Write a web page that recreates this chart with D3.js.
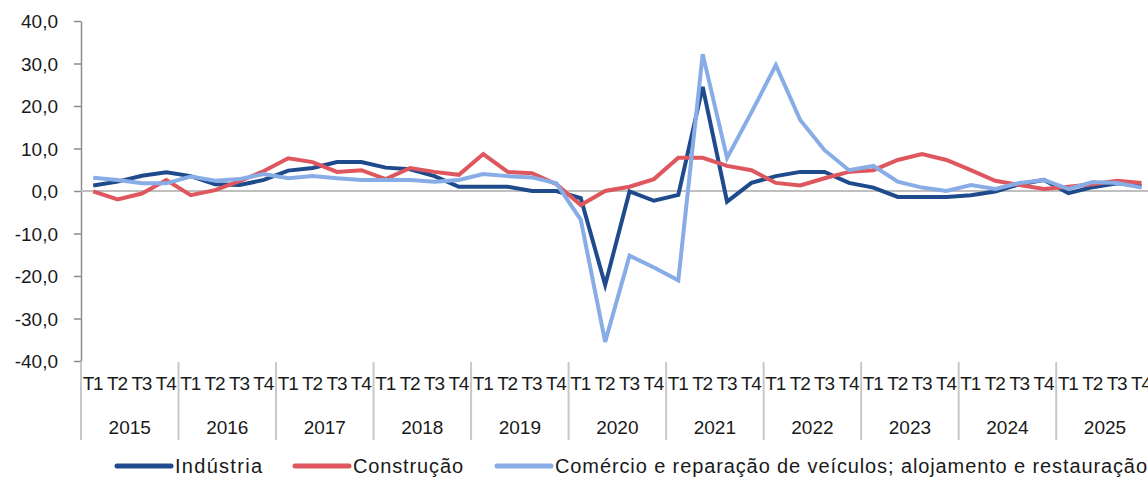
<!DOCTYPE html>
<html>
  <head>
    <meta charset="utf-8">
    <script src="https://cdn.jsdelivr.net/npm/d3@7"></script>
    <style>
      body{
        margin: 0;
        padding: 0;
        background-color: white;
      }
      svg text{
        font-family: "Liberation Sans", "DejaVu Sans", sans-serif;
        fill: #1a1a1a;
      }
    </style>
  </head>
  <body>
    <svg id="chart" width="1148" height="480"></svg>
    <script>
      // data
      var years = ["2015","2016","2017","2018","2019","2020","2021","2022","2023","2024","2025"];
      var quarters = ["T1","T2","T3","T4"];
      var yTicks = [-40,-30,-20,-10,0,10,20,30,40];

      var industria = [1.3,2.2,3.6,4.4, 3.5,1.6,1.4,2.6, 4.8,5.4,6.8,6.8, 5.5,5.1,3.5,1.0,
        1.0,1.0,0.0,0.0, -1.7,-22.1,-0.1,-2.3, -0.9,24.5,-2.5,1.9, 3.5,4.5,4.5,1.9,
        0.8,-1.4,-1.4,-1.4, -1.0,-0.1,1.6,2.6, -0.5,0.9,1.8,1.2];
      var construcao = [-0.1,-2.0,-0.6,2.6, -1.0,0.2,2.3,4.7, 7.7,6.8,4.5,4.9, 2.8,5.4,4.5,3.8,
        8.7,4.5,4.2,1.6, -3.3,0.0,1.0,2.8, 7.8,7.8,5.9,4.9, 1.9,1.3,3.0,4.5,
        4.9,7.3,8.7,7.3, 4.9,2.4,1.4,0.5, 1.0,1.6,2.4,1.9];
      var comercio = [3.1,2.6,1.8,1.8, 3.4,2.4,2.8,4.0, 3.0,3.5,3.0,2.6, 2.6,2.6,2.2,2.6,
        4.0,3.5,3.2,1.8, -6.8,-35.5,-15.2,-18.0, -21.0,32.2,7.8,18.5, 29.6,16.7,9.6,4.9,
        5.9,2.2,0.8,0.0, 1.4,0.5,1.9,2.6, 0.5,2.1,1.9,0.8];

      var series = [
        {name: "Indústria", values: industria, color: "#1F4B8C", len: 87},
        {name: "Construção", values: construcao, color: "#DE575E", len: 110},
        {name: "Comércio e reparação de veículos; alojamento e restauração", values: comercio, color: "#88ADE6", len: 592}
      ];

      var svg = d3.select("#chart");
      var plotLeft = 81, plotTop = 21, plotBottom = 361;
      var qWidth = 24.38;
      var n = years.length * quarters.length;

      var idx = d3.range(n);
      var x = d3.scaleBand().domain(idx).range([plotLeft, plotLeft + n * qWidth]);
      var y = d3.scaleLinear().domain([-40, 40]).range([plotBottom, plotTop]);

      // y axis
      var yAxis = d3.axisLeft(y).tickValues(yTicks).tickSize(7).tickSizeOuter(0)
        .tickFormat(function(d){ return d3.format(".1f")(d).replace(".", ",").replace("−", "-"); });
      var gy = svg.append("g").attr("transform", "translate(" + plotLeft + ",0)").call(yAxis);
      gy.select(".domain").attr("stroke", "#8c8c8c").attr("stroke-width", 1.5);
      gy.selectAll(".tick line").attr("stroke", "#8c8c8c").attr("stroke-width", 1.5);
      gy.selectAll(".tick text").attr("x", -23).attr("dy", "0.35em")
        .style("font-size", "19px").attr("fill", "#1a1a1a");

      // zero line
      svg.append("line")
        .attr("x1", plotLeft).attr("x2", 1148)
        .attr("y1", y(0)).attr("y2", y(0))
        .attr("stroke", "#bfbfbf").attr("stroke-width", 2);

      // category axis: quarters and years
      svg.append("g").selectAll("text").data(idx).enter().append("text")
        .attr("x", function(d){ return x(d) + x.bandwidth() / 2; })
        .attr("y", 390)
        .attr("text-anchor", "middle")
        .style("font-size", "19px")
        .attr("textLength", 21)
        .text(function(d){ return quarters[d % 4]; });

      svg.append("g").selectAll("text").data(years).enter().append("text")
        .attr("x", function(d, i){ return x(i * 4) + qWidth * 2; })
        .attr("y", 434)
        .attr("text-anchor", "middle")
        .style("font-size", "19px")
        .text(function(d){ return d; });

      svg.append("g").selectAll("line").data(d3.range(years.length + 1)).enter().append("line")
        .attr("x1", function(i){ return plotLeft + i * 4 * qWidth; })
        .attr("x2", function(i){ return plotLeft + i * 4 * qWidth; })
        .attr("y1", plotBottom + 1).attr("y2", 440)
        .attr("stroke", "#c8c8c8").attr("stroke-width", 2);

      // lines
      var line = d3.line()
        .x(function(d, i){ return x(i) + x.bandwidth() / 2; })
        .y(function(d){ return y(d); });

      svg.append("g").selectAll("path").data(series).enter().append("path")
        .attr("d", function(s){ return line(s.values); })
        .attr("fill", "none")
        .attr("stroke", function(s){ return s.color; })
        .attr("stroke-width", 4)
        .attr("stroke-linejoin", "miter");

      // legend
      var legendX = [117, 295, 497];
      var lg = svg.append("g").selectAll("g").data(series).enter().append("g")
        .attr("transform", function(s, i){ return "translate(" + legendX[i] + ",466)"; });
      lg.append("line")
        .attr("x1", 0).attr("x2", 54)
        .attr("stroke", function(s){ return s.color; })
        .attr("stroke-width", 5)
        .attr("stroke-linecap", "round");
      lg.append("text")
        .attr("x", 58).attr("dy", "0.35em")
        .style("font-size", "20px")
        .attr("textLength", function(s){ return s.len; })
        .attr("lengthAdjust", "spacing")
        .text(function(s){ return s.name; });
    </script>
  </body>
</html>
